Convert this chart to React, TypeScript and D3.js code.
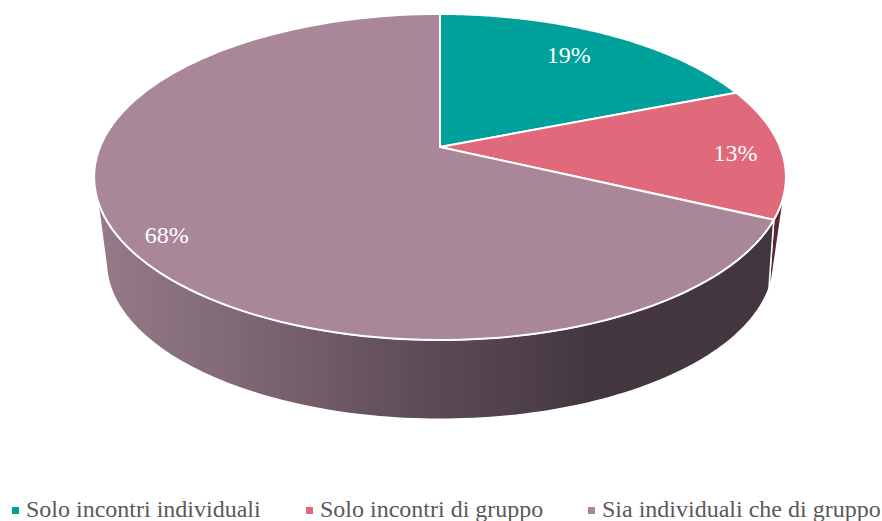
import React from "react";
import * as d3 from "d3";

const categories = ["Solo incontri individuali", "Solo incontri di gruppo", "Sia individuali che di gruppo"];
const shares = [19, 13, 68];
const topColors = ["#00A19A", "#E06A7B", "#A98698"];
const legendX = [26, 320, 602];

const W = 882, H = 521;
const cx = 440, k = 0.184;
const topDisc = { cy: 147, rx: 340, ry: 157.5 };
const baseDisc = { cy: 233, rx: 328, ry: 152 };
const project = (d: { cy: number; rx: number; ry: number }, theta: number, r = 1): [number, number] => {
  const u = Math.sin(theta) * r, v = Math.cos(theta) * r, w = 1 + k * v;
  return [cx + (d.rx * u) / w, d.cy - (d.ry * v) / w];
};
const rad = (deg: number) => (deg * Math.PI) / 180;
const arcPts = (d: typeof topDisc, a: number, b: number) =>
  d3.range(0, 121).map((i) => project(d, a + ((b - a) * i) / 120));
const line = d3.line<[number, number]>();

const pieData = d3.pie<number>().sort(null)(shares);
const labelR = [0.75, 0.865, 0.87];
const labelDy = [4, 10, 16];

const wallEndTop = rad(251.5);
const wallEndBase = rad(257.6);
const sliverTop = rad(104);
const sliverBase = rad(106);
const seam = pieData[1].endAngle;
const seamBase = rad(110);

function wall(a: number, b: number, baseA: number, baseB: number) {
  const pts = [...arcPts(topDisc, a, b), ...arcPts(baseDisc, baseB, baseA)];
  return line(pts) + "Z";
}

export default function App() {
  return (
    <svg width={W} height={H} style={{ position: "absolute", left: 0, top: 0, background: "#fff" }}>
      <defs>
        <linearGradient id="wallGrad" gradientUnits="userSpaceOnUse" x1={100} x2={780} y1={0} y2={0}>
          <stop offset="0" stopColor="#957A8A" />
          <stop offset="0.2" stopColor="#806876" />
          <stop offset="0.45" stopColor="#604E59" />
          <stop offset="0.72" stopColor="#443740" />
          <stop offset="1" stopColor="#43363F" />
        </linearGradient>
      </defs>
      <path d={wall(sliverTop, seam, sliverBase, seamBase)} fill="#5A2632" stroke="#fff" strokeWidth={1.5} strokeLinejoin="round" />
      <path d={wall(seam, wallEndTop, seamBase, wallEndBase)} fill="url(#wallGrad)" stroke="#fff" strokeWidth={1.5} strokeLinejoin="round" />
      {pieData.map((s, i) => (
        <path
          key={i}
          d={line([project(topDisc, 0, 0), ...arcPts(topDisc, s.startAngle, s.endAngle)]) + "Z"}
          fill={topColors[i]}
          stroke="#fff"
          strokeWidth={2}
          strokeLinejoin="round"
        />
      ))}
      {pieData.map((s, i) => {
        const [x, y] = project(topDisc, (s.startAngle + s.endAngle) / 2, labelR[i]);
        return (
          <text key={i} x={x} y={y + labelDy[i]} textAnchor="middle" fontFamily="'Liberation Serif'" fontSize={24} fill="#fff">
            {shares[i]}%
          </text>
        );
      })}
      {categories.map((c, i) => (
        <g key={c}>
          <rect x={legendX[i] - 14} y={507} width={7} height={7} fill={topColors[i]} />
          <text x={legendX[i]} y={517} fontFamily="'Liberation Serif'" fontSize={24} fill="#595959">
            {c}
          </text>
        </g>
      ))}
    </svg>
  );
}
